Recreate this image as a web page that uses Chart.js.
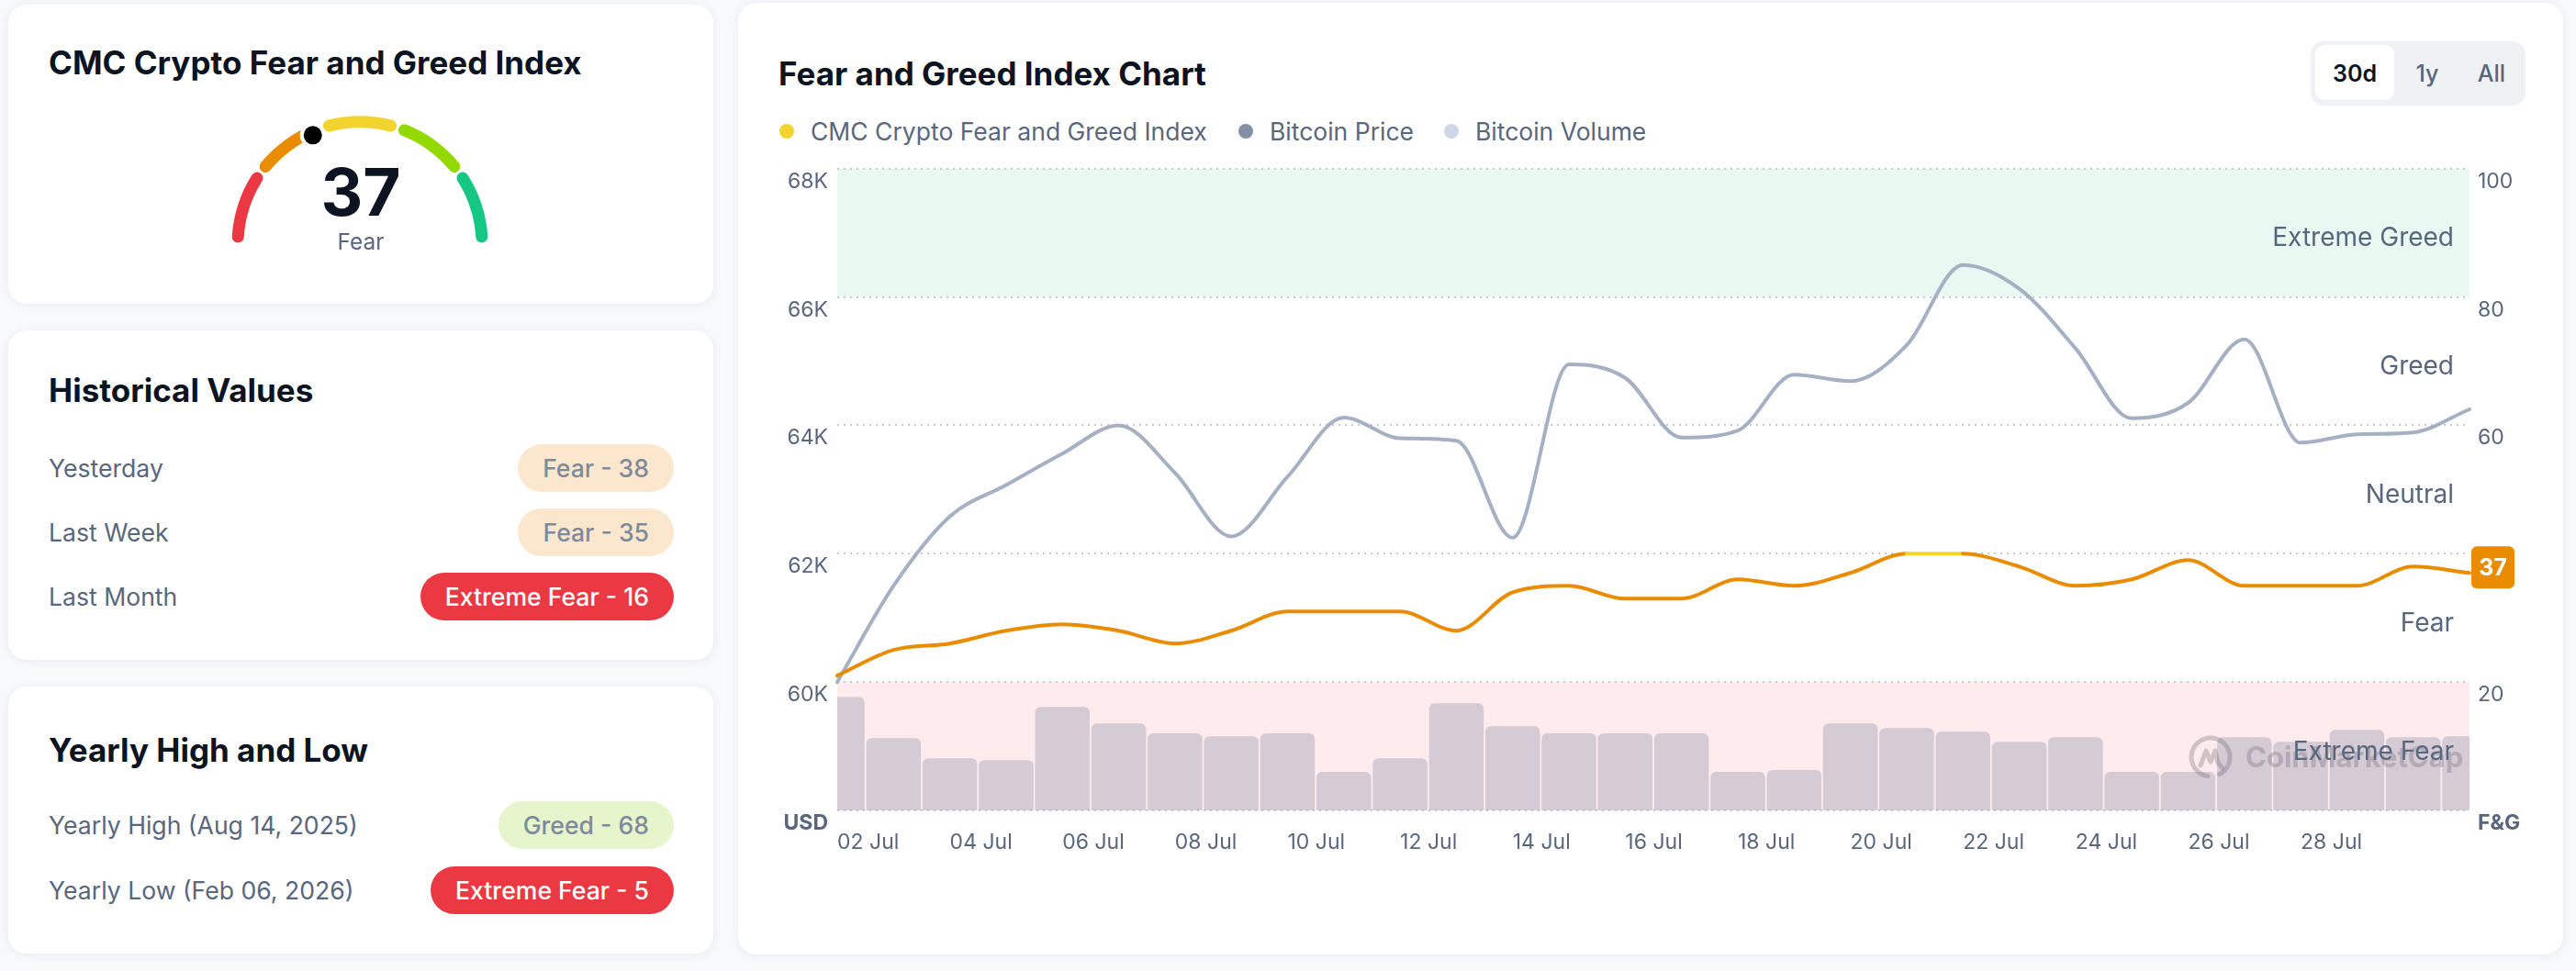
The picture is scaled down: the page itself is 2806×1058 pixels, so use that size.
<!DOCTYPE html>
<html>
<head>
<meta charset="utf-8">
<script src="https://cdn.jsdelivr.net/npm/chart.js@4.4.1/dist/chart.umd.min.js"></script>
<style>
  html, body { margin: 0; padding: 0; }
  body { width: 2806px; height: 1058px; background: #f8f9fb; font-family: Inter, "Noto Sans", sans-serif; position: relative; overflow: hidden; color: #0d1421; }
  .card { position: absolute; background: #fff; border-radius: 20px; box-shadow: 0 1px 10px rgba(88, 102, 126, 0.10); }
  .h { position: absolute; font-size: 35px; font-weight: 700; height: 40px; line-height: 40px; white-space: nowrap; color: #0d1421; }
  .lbl { position: absolute; left: 53px; font-size: 26.6px; height: 52px; line-height: 52px; color: #58667e; white-space: nowrap; }
  .badge { position: absolute; right: 2072px; height: 52px; line-height: 52px; padding: 0 27px; border-radius: 26px; font-size: 26.6px; font-weight: 500; white-space: nowrap; }
  .legend { position: absolute; top: 125px; height: 36px; line-height: 36px; font-size: 26.5px; color: #58667e; white-space: nowrap; }
  .legend i { position: absolute; top: 10px; width: 16px; height: 16px; border-radius: 50%; }
  .tog { position: absolute; left: 2517px; top: 45px; width: 234px; height: 70px; background: #eff2f5; border-radius: 14px; }
  .tog span { position: absolute; top: 0; height: 70px; line-height: 70px; font-size: 25px; font-weight: 500; color: #58667e; transform: translateX(-50%); }
</style>
</head>
<body>
<div class="card" style="left:9px;top:5px;width:768px;height:326px"></div>
<div class="card" style="left:9px;top:360px;width:768px;height:359px"></div>
<div class="card" style="left:9px;top:748px;width:768px;height:291px"></div>
<div class="card" style="left:804px;top:3px;width:1988px;height:1037px"></div>

<div class="h" style="left:53px;top:48px">CMC Crypto Fear and Greed Index</div>
<canvas id="gauge" width="300" height="170" style="position:absolute;left:242px;top:113px"></canvas>
<div id="gaugeNum" style="position:absolute;left:293px;top:169px;width:200px;height:80px;line-height:80px;text-align:center;font-size:71px;font-weight:700;color:#0d1421"></div>
<div id="gaugeCls" style="position:absolute;left:293px;top:248px;width:200px;height:30px;line-height:30px;text-align:center;font-size:24.5px;color:#58667e"></div>

<div class="h" style="left:53px;top:405px">Historical Values</div>
<div class="h" style="left:53px;top:797px">Yearly High and Low</div>
<div id="rows"></div>

<div class="h" style="left:848px;top:60px">Fear and Greed Index Chart</div>
<div id="legend"></div>
<div class="tog">
  <div style="position:absolute;left:5px;top:4px;width:86px;height:60px;background:#fff;border-radius:10px"></div>
  <span style="left:48px;color:#0d1421;font-weight:600">30d</span>
  <span style="left:127px">1y</span>
  <span style="left:197px">All</span>
</div>

<div style="position:absolute;left:820px;top:160px;width:1960px;height:800px">
  <canvas id="fg"></canvas>
</div>

<script>
// ---- data ----
const dates = ['02 Jul', '03 Jul', '04 Jul', '05 Jul', '06 Jul', '07 Jul', '08 Jul', '09 Jul', '10 Jul', '11 Jul',
  '12 Jul', '13 Jul', '14 Jul', '15 Jul', '16 Jul', '17 Jul', '18 Jul', '19 Jul', '20 Jul', '21 Jul',
  '22 Jul', '23 Jul', '24 Jul', '25 Jul', '26 Jul', '27 Jul', '28 Jul', '29 Jul', '30 Jul', '31 Jul'];
const fearGreed = [21, 25, 26, 28, 29, 28, 26, 28, 31, 31, 31, 28, 34, 35, 33, 33, 36, 35, 37, 40,
  40, 38, 35, 36, 39, 35, 35, 35, 38, 37];
const btcPrice = [60000, 61500, 62580, 63070, 63560, 64000, 63260, 62270, 63200, 64120,
  63800, 63760, 62250, 64950, 64740, 63810, 63920, 64790, 64690, 65250,
  66500, 66130, 65200, 64110, 64350, 65340, 63730, 63860, 63890, 64250];
const btcVolume = [44.2, 28.2, 20.3, 19.6, 40.3, 33.9, 30.0, 28.9, 30.0, 15.0,
  20.3, 41.7, 32.8, 30.0, 30.0, 30.0, 15.0, 15.7, 33.9, 32.1,
  30.7, 26.7, 28.5, 15.0, 15.0, 28.5, 26.7, 31.4, 28.5, 28.9]; // billions USD

const seriesNames = ['CMC Crypto Fear and Greed Index', 'Bitcoin Price', 'Bitcoin Volume'];
const gaugeValue = 37;
const gaugeSegments = [20, 20, 20, 20, 20];
const historyLabels = ['Yesterday', 'Last Week', 'Last Month'];
const historyValues = [38, 35, 16];
const yearlyLabels = ['Yearly High', 'Yearly Low'];
const yearlyDates = ['Aug 14, 2025', 'Feb 06, 2026'];
const yearlyValues = [68, 5];
const zoneNames = ['Extreme Fear', 'Fear', 'Neutral', 'Greed', 'Extreme Greed'];

// ---- helpers ----
const gaugeColors = ['#ea3943', '#ea8c00', '#f3d42f', '#93d900', '#16c784'];
const badgeStyle = {
  'Extreme Fear': ['#ea3943', '#ffffff'],
  'Fear': ['#fbe7cd', '#7f8a9d'],
  'Neutral': ['#fdf5d3', '#7f8a9d'],
  'Greed': ['#e6f5cb', '#7f8a9d'],
  'Extreme Greed': ['#d3f4e5', '#7f8a9d']
};
function classify(v) {
  if (v <= 20) return 'Extreme Fear';
  if (v <= 40) return 'Fear';
  if (v <= 60) return 'Neutral';
  if (v <= 80) return 'Greed';
  return 'Extreme Greed';
}

document.getElementById('gaugeNum').textContent = gaugeValue;
document.getElementById('gaugeCls').textContent = classify(gaugeValue);

// left panel rows
const rows = document.getElementById('rows');
function addRow(text, value, cy) {
  const l = document.createElement('div');
  l.className = 'lbl';
  l.style.top = (cy - 26) + 'px';
  l.textContent = text;
  rows.appendChild(l);
  const cls = classify(value);
  const b = document.createElement('div');
  b.className = 'badge';
  b.style.top = (cy - 26) + 'px';
  b.style.background = badgeStyle[cls][0];
  b.style.color = badgeStyle[cls][1];
  b.textContent = cls + ' - ' + value;
  rows.appendChild(b);
}
historyLabels.forEach((t, i) => addRow(t, historyValues[i], 510 + i * 70));
yearlyLabels.forEach((t, i) => addRow(t + ' (' + yearlyDates[i] + ')', yearlyValues[i], 899 + i * 71));

// legend
const legendDots = ['#f3d42f', '#8390a5', '#cfd6e4'];
const legendX = [849, 1349, 1573];
const legend = document.getElementById('legend');
seriesNames.forEach((n, i) => {
  const d = document.createElement('div');
  d.className = 'legend';
  d.style.left = legendX[i] + 'px';
  d.innerHTML = '<i style="left:0;background:' + legendDots[i] + '"></i><span style="margin-left:34px">' + n + '</span>';
  legend.appendChild(d);
});

// ---- gauge ----
const gaugeDot = {
  id: 'gaugeDot',
  afterDraw(chart) {
    const arc = chart.getDatasetMeta(0).data[0];
    const r = (arc.innerRadius + arc.outerRadius) / 2;
    const ang = Math.PI + gaugeValue / 100 * Math.PI;
    const px = arc.x + r * Math.cos(ang), py = arc.y + r * Math.sin(ang);
    const ctx = chart.ctx;
    ctx.save();
    ctx.fillStyle = '#ffffff';
    ctx.beginPath(); ctx.arc(px, py, 14, 0, Math.PI * 2); ctx.fill();
    ctx.fillStyle = '#000000';
    ctx.beginPath(); ctx.arc(px, py, 10, 0, Math.PI * 2); ctx.fill();
    ctx.restore();
  }
};
new Chart(document.getElementById('gauge'), {
  type: 'doughnut',
  data: { datasets: [{ data: gaugeSegments, backgroundColor: gaugeColors, borderWidth: 0, borderRadius: 7, spacing: 8 }] },
  options: {
    responsive: false, animation: false, events: [],
    rotation: -90, circumference: 180, radius: 135.5, cutout: '90.4%',
    plugins: { legend: { display: false }, tooltip: { enabled: false } }
  },
  plugins: [gaugeDot]
});

// ---- main chart ----
const fgOrange = '#ea8c00', fgYellow = '#f3d42f';
const tickColor = '#58667e';
const bands = [{ from: 80, to: 100, color: '#e9f8f1' }, { from: 0, to: 20, color: '#fdebed' }];

const zonesPlugin = {
  id: 'zones',
  beforeDraw(chart) {
    const { ctx, chartArea: a } = chart;
    const y1 = chart.scales.y1;
    ctx.save();
    bands.forEach(b => {
      const top = y1.getPixelForValue(b.to), bot = y1.getPixelForValue(b.from);
      ctx.fillStyle = b.color;
      ctx.fillRect(a.left, top, a.right - a.left, bot - top);
    });
    ctx.restore();
  },
  afterDatasetsDraw(chart) {
    const { ctx, chartArea: a } = chart;
    const y1 = chart.scales.y1;
    ctx.save();
    // watermark
    ctx.fillStyle = 'rgba(110,100,115,0.30)';
    ctx.strokeStyle = 'rgba(110,100,115,0.30)';
    ctx.lineWidth = 5;
    ctx.lineCap = 'round';
    ctx.lineJoin = 'round';
    const lx = a.right - 282, ly = a.bottom - 58;
    ctx.beginPath(); ctx.arc(lx, ly, 21, 0.55 * Math.PI, 2.35 * Math.PI); ctx.stroke();
    ctx.beginPath();
    ctx.moveTo(lx - 11, ly + 9); ctx.lineTo(lx - 5, ly - 7); ctx.lineTo(lx, ly + 5);
    ctx.lineTo(lx + 5, ly - 7); ctx.lineTo(lx + 8, ly + 6); ctx.lineTo(lx + 13, ly + 12);
    ctx.stroke();
    ctx.font = '700 31px Inter';
    ctx.textAlign = 'left';
    ctx.textBaseline = 'middle';
    ctx.fillText('CoinMarketCap', a.right - 244, a.bottom - 56);
    // zone labels
    ctx.fillStyle = tickColor;
    ctx.font = '400 28px Inter';
    ctx.textAlign = 'right';
    zoneNames.forEach((z, i) => {
      ctx.fillText(z, a.right - 17, y1.getPixelForValue(i * 20 + 10) + 6);
    });
    ctx.restore();
  },
  afterDraw(chart) {
    const { ctx, chartArea: a } = chart;
    const last = fearGreed[fearGreed.length - 1];
    const cy = chart.scales.y1.getPixelForValue(last) - 6;
    ctx.save();
    ctx.fillStyle = fgOrange;
    ctx.beginPath();
    ctx.roundRect(a.right + 2, cy - 23, 47, 46, 6);
    ctx.fill();
    ctx.fillStyle = '#ffffff';
    ctx.font = '700 25px Inter';
    ctx.textAlign = 'center';
    ctx.textBaseline = 'middle';
    ctx.fillText(String(last), a.right + 25.5, cy + 1);
    ctx.restore();
  }
};

const tickFont = c => ({ family: 'Inter', size: 23, weight: c.index === 0 ? '700' : '400' });

new Chart(document.getElementById('fg'), {
  data: {
    labels: dates,
    datasets: [
      {
        type: 'line', label: seriesNames[0], data: fearGreed, yAxisID: 'y1', order: 1,
        borderColor: fgOrange, borderWidth: 4, pointRadius: 0, cubicInterpolationMode: 'monotone',
        borderCapStyle: 'round',
        segment: { borderColor: c => (c.p0.parsed.y >= 40 && c.p1.parsed.y >= 40) ? fgYellow : fgOrange }
      },
      {
        type: 'line', label: seriesNames[1], data: btcPrice, yAxisID: 'y', order: 2,
        borderColor: '#a6b0c3', borderWidth: 4, pointRadius: 0, cubicInterpolationMode: 'monotone',
        borderCapStyle: 'round'
      },
      {
        type: 'bar', label: seriesNames[2], data: btcVolume, yAxisID: 'yv', order: 3,
        backgroundColor: 'rgba(150,155,175,0.40)', categoryPercentage: 1, barPercentage: 0.97,
        borderRadius: 6, borderSkipped: 'start'
      }
    ]
  },
  options: {
    responsive: true, maintainAspectRatio: false, animation: false, events: [],
    layout: { padding: { top: 22, left: 0, right: 0, bottom: 0 } },
    plugins: { legend: { display: false }, tooltip: { enabled: false } },
    scales: {
      x: {
        offset: false,
        grid: { display: false, drawTicks: false },
        border: { display: false },
        ticks: {
          autoSkip: false, maxRotation: 0, minRotation: 0, align: 'start', padding: 21,
          color: tickColor, font: { family: 'Inter', size: 23 },
          callback: (v, i) => (i % 2 === 0 && i <= 26) ? dates[i] : ''
        },
        afterFit: s => { s.height = 77; }
      },
      y: {
        position: 'left', min: 58000, max: 68000,
        grid: { color: '#c3c8d2', lineWidth: 2, drawTicks: false },
        border: { display: false, dash: [2, 5] },
        ticks: {
          stepSize: 2000, padding: 10, labelOffset: 14, color: tickColor, font: tickFont,
          callback: (v, i) => i === 0 ? 'USD' : (v / 1000) + 'K'
        },
        afterFit: s => { s.width = 92; }
      },
      y1: {
        position: 'right', min: 0, max: 100,
        grid: { display: false, drawTicks: false },
        border: { display: false },
        ticks: {
          stepSize: 20, padding: 9, labelOffset: 14, color: tickColor, font: tickFont,
          callback: (v, i) => i === 0 ? 'F&G' : v
        },
        afterFit: s => { s.width = 90; }
      },
      yv: { display: false, min: 0, max: 250 }
    }
  },
  plugins: [zonesPlugin]
});
</script>
</body>
</html>
